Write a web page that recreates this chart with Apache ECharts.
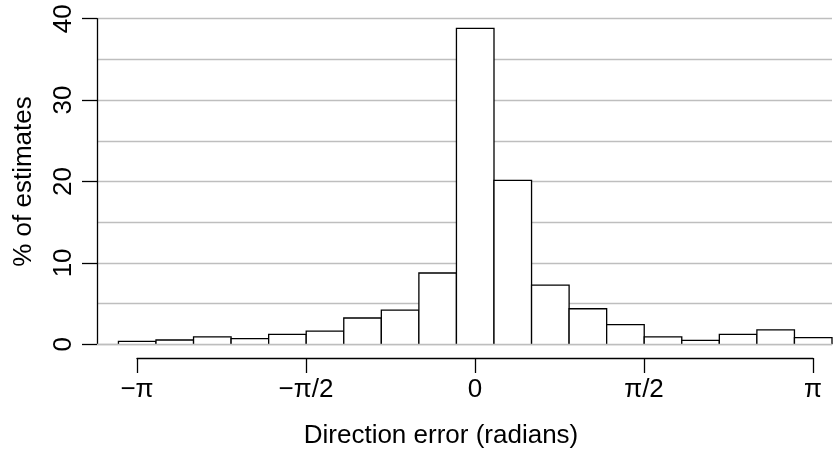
<!DOCTYPE html>
<html>
<head>
<meta charset="utf-8">
<script src="https://cdn.jsdelivr.net/npm/echarts@6/dist/echarts.min.js"></script>
<style>
	html, body { margin: 0; padding: 0; background: #fff; }
	#main { width: 840px; height: 453px; }
</style>
</head>
<body>
<div id="main"></div>
<script>
// histogram of direction errors, bins are pi/9 wide, centred on k*pi/9
var binWidth = Math.PI / 9;
var binSteps = [-9, -8, -7, -6, -5, -4, -3, -2, -1, 0, 1, 2, 3, 4, 5, 6, 7, 8, 9];
var percents = [0.37, 0.53, 0.9, 0.69, 1.23, 1.63, 3.23, 4.2, 8.76, 38.8,
	20.15, 7.28, 4.37, 2.41, 0.9, 0.49, 1.23, 1.76, 0.81];
// x ticks in units of pi/2
var xTickLabels = ['\u2212\u03c0', '\u2212\u03c0/2', '0', '\u03c0/2', '\u03c0'];
var yTicks = [0, 10, 20, 30, 40];

var font = 'Liberation Sans, Arial, sans-serif';
var gridGray = '#bebebe';

function renderBar(params, api) {
	var c = api.value(0), v = api.value(1);
	var p0 = api.coord([c - binWidth / 2, v]);
	var p1 = api.coord([c + binWidth / 2, 0]);
	return {
		type: 'group',
		children: [{
			type: 'rect',
			shape: { x: p0[0], y: p0[1], width: p1[0] - p0[0], height: p1[1] - p0[1] },
			style: { fill: '#fff', stroke: null }
		}, {
			type: 'polyline',
			shape: { points: [[p0[0], p1[1]], [p0[0], p0[1]], [p1[0], p0[1]], [p1[0], p1[1]]] },
			style: { fill: null, stroke: '#000', lineWidth: 1.3 }
		}]
	};
}

var myChart = echarts.init(document.getElementById('main'));
var option = {
	animation: false,
	backgroundColor: '#fff',
	textStyle: { fontFamily: font },
	title: {
		text: 'Direction error (radians)',
		left: 436,
		textAlign: 'center',
		top: 418,
		textStyle: { fontFamily: font, fontSize: 26, fontWeight: 'normal', color: '#000' }
	},
	grid: [
		{ left: 97, right: 8, top: 18.7, bottom: 108.7 },
		{ left: 137, right: 27, top: 300, bottom: 95 }
	],
	xAxis: [{
		gridIndex: 0,
		type: 'value',
		min: -3.5154,
		max: Math.PI + binWidth / 2,
		show: false
	}, {
		gridIndex: 1,
		type: 'value',
		min: -2,
		max: 2,
		interval: 1,
		axisLine: { lineStyle: { color: '#000', width: 1.3 } },
		axisTick: { length: 15, lineStyle: { color: '#000', width: 1.3 } },
		splitLine: { show: false },
		axisLabel: {
			margin: 19,
			fontSize: 26,
			color: '#000',
			fontFamily: font,
			formatter: function(v) { return xTickLabels[Math.round(v) + 2]; }
		}
	}],
	yAxis: [{
		gridIndex: 0,
		type: 'value',
		min: 0,
		max: 40,
		interval: 5,
		axisLine: { show: false },
		axisTick: { show: false },
		axisLabel: { show: false },
		splitLine: { lineStyle: { color: gridGray, width: 1.3 } }
	}, {
		gridIndex: 0,
		type: 'value',
		min: 0,
		max: 40,
		interval: 10,
		position: 'left',
		name: '% of estimates',
		nameLocation: 'middle',
		nameGap: 60,
		nameTextStyle: { fontFamily: font, fontSize: 26, color: '#000' },
		axisLine: { show: true, lineStyle: { color: '#000', width: 1.3 } },
		axisTick: { show: true, length: 15, lineStyle: { color: '#000', width: 1.3 } },
		splitLine: { show: false },
		axisLabel: {
			rotate: 90,
			margin: 20,
			fontSize: 26,
			color: '#000',
			fontFamily: font,
			formatter: function(v) { return yTicks.indexOf(v) >= 0 ? String(v) : ''; }
		}
	}, {
		gridIndex: 1,
		type: 'value',
		show: false
	}],
	series: [{
		type: 'custom',
		xAxisIndex: 0,
		yAxisIndex: 0,
		renderItem: renderBar,
		encode: { x: 0, y: 1 },
		data: binSteps.map(function(k, i) { return [k * binWidth, percents[i]]; }),
		markLine: {
			silent: true,
			symbol: 'none',
			label: { show: false },
			lineStyle: { color: gridGray, width: 1.3, type: 'solid' },
			data: [{ yAxis: 0 }]
		}
	}]
};
myChart.setOption(option);
</script>
</body>
</html>
